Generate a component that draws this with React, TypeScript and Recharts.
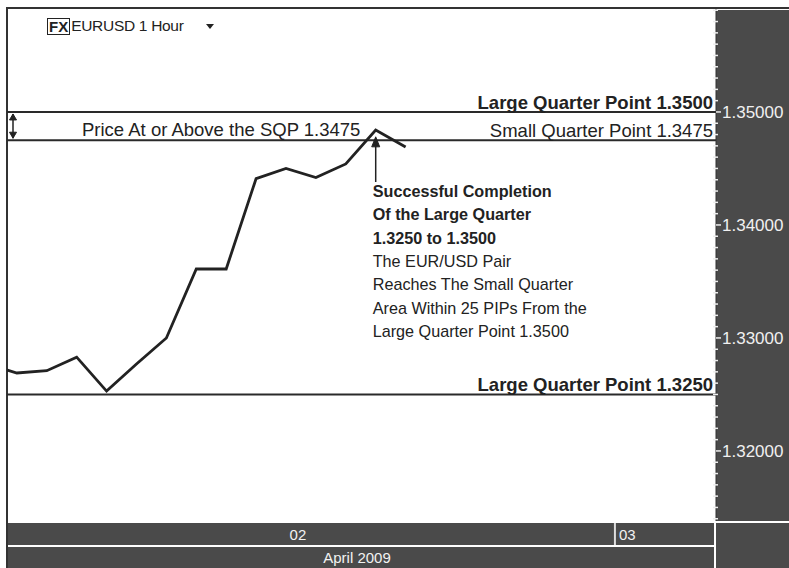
import React from 'react';
import {
  LineChart, Line, XAxis, YAxis, ReferenceLine, ReferenceArea,
} from 'recharts';

document.body.style.margin = '0';

// hourly closes, 2 April 2009 (hour of day)
const hours = [3, 4, 5, 6, 7, 8, 9, 10, 11, 12, 13, 14, 15, 16, 17];
const closes = [
  1.3277, 1.3269, 1.3271, 1.3283, 1.3253, 1.3277, 1.3300, 1.3361,
  1.3361, 1.3441, 1.3450, 1.3442, 1.3454, 1.3484, 1.3469,
];

const majorTicks = [1.32, 1.33, 1.34, 1.35];
const dayTicks = [13.4, 24];
const dayLabels = ['02', '03'];
const monthLabel = 'April 2009';

const largeQuarterTop = 1.35;
const smallQuarter = 1.3475;
const largeQuarterBottom = 1.325;

const calloutBold = ['Successful Completion', 'Of the Large Quarter', '1.3250 to 1.3500'];
const calloutText = [
  'The EUR/USD Pair',
  'Reaches The Small Quarter',
  'Area Within 25 PIPs From the',
  'Large Quarter Point 1.3500',
];

const data = hours.map((h, i) => ({ hour: h, close: closes[i] }));

// one tick per 0.001 for the little notches on the price scale
const allTicks = Array.from({ length: 46 }, (_, i) => Math.round((1.314 + i * 0.001) * 1000) / 1000);

const FONT = '"Liberation Sans", Arial, sans-serif';
const DARK = '#4a4a4a';
const INK = '#222';

function PriceTick({ x, y, payload }: any) {
  const v = payload.value;
  const major = majorTicks.some((m) => Math.abs(m - v) < 1e-6);
  if (major) {
    return (
      <g>
        <line x1={x} x2={x + 5} y1={y} y2={y} stroke="#eee" strokeWidth={1.5} />
        <text x={x + 6} y={y + 6} fill="#f0f0f0" fontSize={17} fontFamily={FONT}>
          {v.toFixed(5)}
        </text>
      </g>
    );
  }
  return <line x1={x - 3} x2={x + 2} y1={y} y2={y} stroke="#eee" strokeWidth={1.5} />;
}

function DayTick({ x, y, payload, index }: any) {
  const label = dayLabels[index];
  if (payload.value === 24) {
    return (
      <g>
        <line x1={x} x2={x} y1={y + 2} y2={y + 24} stroke="#ddd" strokeWidth={2} />
        <text x={x + 4} y={y + 19} fill="#f2f2f2" fontSize={15} fontFamily={FONT}>{label}</text>
      </g>
    );
  }
  return (
    <text x={x} y={y + 19} fill="#f2f2f2" fontSize={15} fontFamily={FONT} textAnchor="middle">
      {label}
    </text>
  );
}

function QuarterLabel({ viewBox, text, bold, leftText }: any) {
  const { x, y, width } = viewBox;
  return (
    <g fontFamily={FONT} fill={INK}>
      <text x={x + width - 3} y={y - 3} textAnchor="end" fontSize={18.5} fontWeight={bold ? 700 : 400}>
        {text}
      </text>
      {leftText && (
        <text x={x + 75} y={y - 4} fontSize={18.5}>{leftText}</text>
      )}
    </g>
  );
}

function DoubleArrow({ x, y, height }: any) {
  const ax = x + 6;
  return (
    <g stroke={INK} fill={INK}>
      <line x1={ax} x2={ax} y1={y + 2} y2={y + height - 2} strokeWidth={1.5} />
      <path d={`M${ax - 3.5},${y + 8} L${ax},${y + 2} L${ax + 3.5},${y + 8} Z`} />
      <path d={`M${ax - 3.5},${y + height - 8} L${ax},${y + height - 2} L${ax + 3.5},${y + height - 8} Z`} />
    </g>
  );
}

function ArrowShape({ x1, y1, x2, y2 }: any) {
  const top = Math.min(y1, y2);
  const bottom = Math.max(y1, y2);
  return (
    <g stroke={INK} fill={INK}>
      <line x1={x1} x2={x2} y1={top + 4} y2={bottom} strokeWidth={1.5} />
      <path d={`M${x1 - 4},${top + 10} L${x1},${top} L${x1 + 4},${top + 10} Z`} />
    </g>
  );
}

function CalloutLabel({ viewBox }: any) {
  const { x, y, height } = viewBox;
  const left = x - 3;
  const base = y + height + 15;
  const step = 23.3;
  return (
    <g fontFamily={FONT} fill={INK} fontSize={16.2}>
      {calloutBold.map((t, i) => (
        <text key={t} x={left} y={base + i * step} fontWeight={700}>{t}</text>
      ))}
      {calloutText.map((t, i) => (
        <text key={t} x={left} y={base + (i + calloutBold.length) * step}>{t}</text>
      ))}
    </g>
  );
}

export default function App() {
  return (
    <div style={{ position: 'relative', width: 789, height: 568, background: '#fff', overflow: 'hidden', fontFamily: FONT }}>
      {/* dark panels of the terminal */}
      <div style={{ position: 'absolute', left: 716, top: 10, width: 73, height: 511, background: DARK }} />
      <div style={{ position: 'absolute', left: 716, top: 523, width: 73, height: 45, background: DARK }} />
      <div style={{ position: 'absolute', left: 7, top: 523, width: 707, height: 22, background: DARK }} />
      <div style={{ position: 'absolute', left: 7, top: 547, width: 707, height: 21, background: DARK }} />
      <div style={{ position: 'absolute', left: 6, top: 7, width: 783, height: 2, background: '#333' }} />
      <div style={{ position: 'absolute', left: 6, top: 7, width: 2, height: 561, background: '#333' }} />

      <LineChart width={789} height={568} data={data} margin={{ top: 8, right: 0, bottom: 0, left: 7 }}>
        <XAxis
          dataKey="hour"
          type="number"
          domain={[3.67, 27.38]}
          allowDataOverflow
          ticks={dayTicks}
          tick={<DayTick />}
          tickLine={false}
          axisLine={false}
          tickSize={0}
          tickMargin={0}
          height={47}
          interval={0}
        />
        <YAxis
          orientation="right"
          type="number"
          domain={[1.3138, 1.3592]}
          allowDataOverflow
          ticks={allTicks}
          tick={<PriceTick />}
          tickLine={false}
          axisLine={{ stroke: '#333', strokeWidth: 1 }}
          tickSize={0}
          tickMargin={0}
          width={73}
          interval={0}
        />
        <ReferenceArea y1={smallQuarter} y2={largeQuarterTop} shape={<DoubleArrow />} ifOverflow="visible" />
        <ReferenceLine
          y={largeQuarterTop}
          stroke="#2a2a2a"
          strokeWidth={2}
          label={<QuarterLabel text="Large Quarter Point 1.3500" bold />}
        />
        <ReferenceLine
          y={smallQuarter}
          stroke="#2a2a2a"
          strokeWidth={2}
          label={<QuarterLabel text="Small Quarter Point 1.3475" leftText="Price At or Above the SQP 1.3475" />}
        />
        <ReferenceLine
          y={largeQuarterBottom}
          stroke="#2a2a2a"
          strokeWidth={2}
          label={<QuarterLabel text="Large Quarter Point 1.3250" bold />}
        />
        <Line
          type="linear"
          dataKey="close"
          stroke={INK}
          strokeWidth={2.8}
          dot={false}
          isAnimationActive={false}
        />
        <ReferenceLine
          segment={[{ x: 16, y: 1.3438 }, { x: 16, y: 1.3478 }]}
          shape={ArrowShape}
          label={<CalloutLabel />}
        />
      </LineChart>

      <div style={{ position: 'absolute', left: 7, top: 547, width: 700, height: 21, color: '#f2f2f2', fontSize: 15, textAlign: 'center', lineHeight: '21px' }}>
        {monthLabel}
      </div>

      {/* symbol header */}
      <div style={{ position: 'absolute', left: 47, top: 17, display: 'flex', alignItems: 'center', color: INK }}>
        <span style={{ border: '1.5px solid #222', fontWeight: 700, fontSize: 15, lineHeight: '15px', height: 15, padding: '0 1px', display: 'inline-block' }}>FX</span>
        <span style={{ fontSize: 15.5, marginLeft: 1, letterSpacing: -0.3 }}>EURUSD 1 Hour</span>
        <span style={{ marginLeft: 22, width: 0, height: 0, borderLeft: '4px solid transparent', borderRight: '4px solid transparent', borderTop: '5px solid #222' }} />
      </div>
    </div>
  );
}
